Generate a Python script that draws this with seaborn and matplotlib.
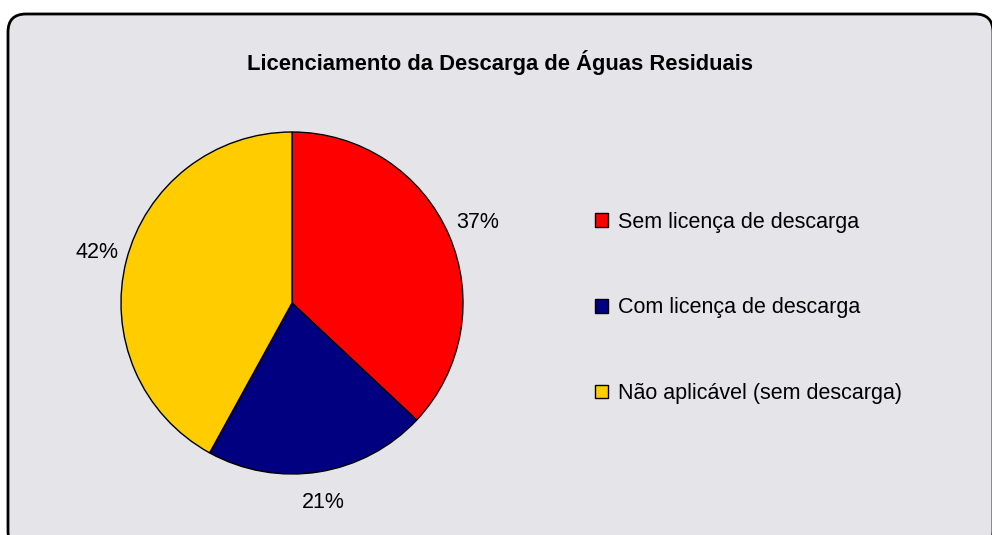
import numpy as np
import pandas as pd
import matplotlib.pyplot as plt
import seaborn as sns
from matplotlib.patches import FancyBboxPatch, Patch

# Data
categories = ["Sem licença de descarga", "Com licença de descarga", "Não aplicável (sem descarga)"]
shares = [37, 21, 42]
colors = ["#FF0000", "#000080", "#FFCC00"]

sns.set_theme(style="white")
plt.rcParams['font.family'] = ['Liberation Sans', 'DejaVu Sans']
plt.rcParams['text.color'] = 'black'

W, H = 992, 535
fig = plt.figure(figsize=(W / 100, H / 100), dpi=100)
fig.patch.set_facecolor("white")

# background frame with rounded corners, drawn in pixel units
bg = fig.add_axes([0, 0, 1, 1])
bg.set_xlim(0, W)
bg.set_ylim(H, 0)
bg.axis("off")
frame = FancyBboxPatch((8, 14), W - 7, H, boxstyle="round,pad=0,rounding_size=18",
                       facecolor="#e5e5e9", edgecolor="black", linewidth=2, zorder=0)
bg.add_patch(frame)

# pie
cx, cy, r = 292, 303, 171
ax = fig.add_axes([(cx - r) / W, (H - cy - r) / H, 2 * r / W, 2 * r / H])
wedges, texts, autotexts = ax.pie(
    shares, colors=colors, startangle=90, counterclock=False,
    autopct="%1.0f%%", pctdistance=1.18,
    wedgeprops=dict(edgecolor="black", linewidth=1),
    textprops=dict(fontsize=15.5, color="black"))
ax.set_xlim(-1, 1)
ax.set_ylim(-1, 1)
ax.set_aspect("equal")
ax.axis("off")

fig.text(500 / W, 1 - 62 / H, "Licenciamento da Descarga de Águas Residuais",
         ha="center", va="center", fontsize=15.8, fontweight="bold", color="black")

handles = [Patch(facecolor=c, edgecolor="black", linewidth=1) for c in colors]
fig.legend(handles, categories, loc="center left",
           bbox_to_anchor=(595 / W, 1 - 308 / H), frameon=False,
           fontsize=15.5, handlelength=0.6, handleheight=0.6,
           handletextpad=0.45, labelspacing=3.0, borderpad=0, borderaxespad=0,
           labelcolor="black")

fig.savefig("out.png", dpi=100)
